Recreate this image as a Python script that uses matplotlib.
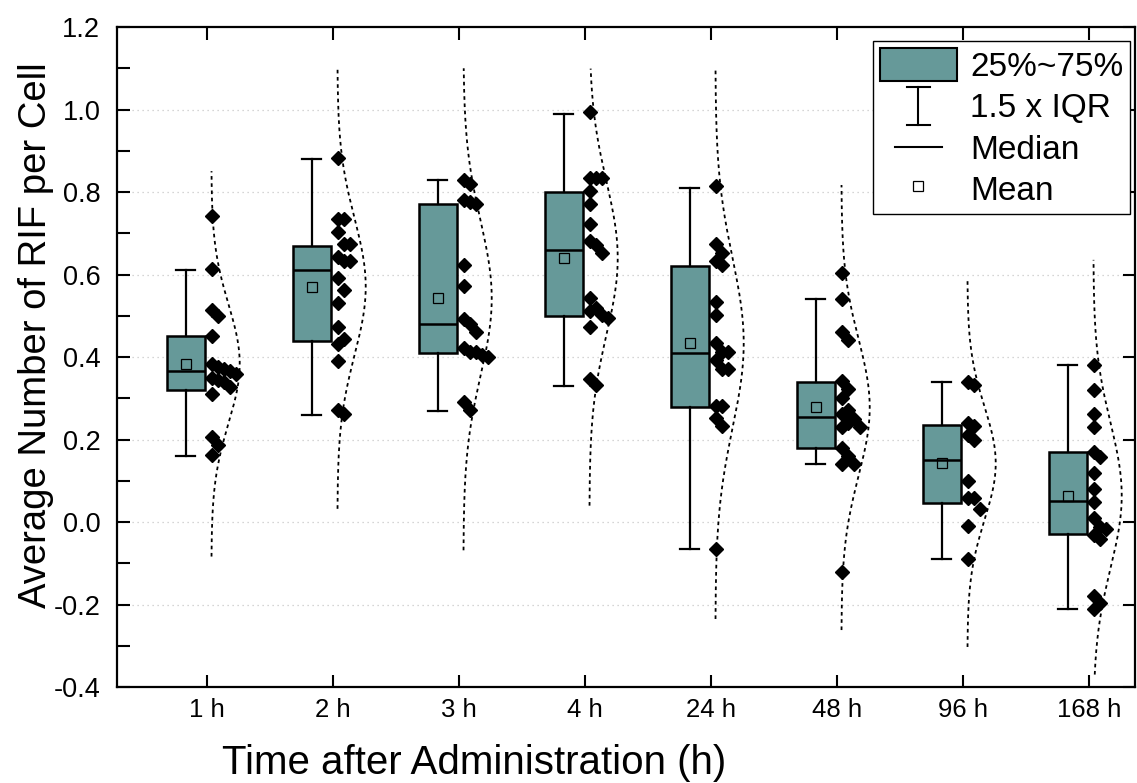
import matplotlib

matplotlib.use("Agg")
import matplotlib.pyplot as plt
import numpy as np
from matplotlib.legend_handler import HandlerBase
from matplotlib.lines import Line2D
from matplotlib.patches import Patch

plt.rcParams["font.family"] = ["Liberation Sans", "DejaVu Sans"]
plt.rcParams["axes.unicode_minus"] = False

# Categories and box statistics
times = ["1 h", "2 h", "3 h", "4 h", "24 h", "48 h", "96 h", "168 h"]
q1 = [0.32, 0.44, 0.41, 0.50, 0.28, 0.18, 0.045, -0.03]
median = [0.365, 0.61, 0.48, 0.66, 0.41, 0.255, 0.15, 0.05]
q3 = [0.45, 0.67, 0.77, 0.80, 0.62, 0.34, 0.235, 0.17]
whisker_low = [0.16, 0.26, 0.27, 0.33, -0.065, 0.14, -0.09, -0.21]
whisker_high = [0.61, 0.88, 0.83, 0.99, 0.81, 0.54, 0.34, 0.38]
means = [0.383, 0.570, 0.544, 0.640, 0.433, 0.278, 0.142, 0.063]

# Individual data points per time point
pts_1h = [0.743, 0.613, 0.515, 0.50, 0.452, 0.382, 0.375, 0.371, 0.366, 0.36,
          0.35, 0.344, 0.34, 0.327, 0.31, 0.205, 0.187, 0.162]
pts_2h = [0.882, 0.734, 0.734, 0.703, 0.673, 0.673, 0.643, 0.633, 0.633, 0.592,
          0.562, 0.532, 0.472, 0.443, 0.432, 0.391, 0.271, 0.262]
pts_3h = [0.829, 0.82, 0.78, 0.775, 0.77, 0.623, 0.572, 0.491, 0.481, 0.461,
          0.421, 0.413, 0.413, 0.405, 0.40, 0.292, 0.272]
pts_4h = [0.993, 0.833, 0.833, 0.833, 0.802, 0.771, 0.722, 0.682, 0.671, 0.653,
          0.542, 0.520, 0.512, 0.501, 0.494, 0.472, 0.347, 0.332]
pts_24h = [0.814, 0.673, 0.653, 0.633, 0.623, 0.533, 0.502, 0.433, 0.412, 0.412,
           0.393, 0.371, 0.371, 0.281, 0.281, 0.251, 0.233, -0.065]
pts_48h = [0.603, 0.541, 0.461, 0.441, 0.341, 0.322, 0.300, 0.272, 0.262, 0.250,
           0.241, 0.231, 0.231, 0.179, 0.160, 0.140, 0.140, -0.120]
pts_96h = [0.340, 0.332, 0.241, 0.233, 0.211, 0.200, 0.100, 0.059, 0.059, 0.031,
           -0.010, -0.090]
pts_168h = [0.381, 0.320, 0.261, 0.231, 0.169, 0.158, 0.120, 0.079, 0.049, 0.010,
            -0.011, -0.018, -0.032, -0.042, -0.179, -0.196, -0.212]
points = [pts_1h, pts_2h, pts_3h, pts_4h, pts_24h, pts_48h, pts_96h, pts_168h]

box_color = "#669999"


def swarm_offsets(vals, dmin=0.03, step=0.048):
    # Greedy column placement so close values sit side by side
    placed = []
    offs = []
    for v in vals:
        col = 0
        while any(c == col and abs(v - pv) < dmin for pv, c in placed):
            col += 1
        placed.append((v, col))
        offs.append(col * step)
    return np.array(offs)


class IQRHandler(HandlerBase):
    def create_artists(self, legend, orig_handle, xdescent, ydescent,
                       width, height, fontsize, trans):
        cx = width / 2 - xdescent
        y0, y1 = -ydescent - 0.08 * height, height - ydescent + 0.08 * height
        hw = 0.15 * width
        kw = dict(color="black", lw=1.5, transform=trans)
        return [Line2D([cx, cx], [y0, y1], **kw),
                Line2D([cx - hw, cx + hw], [y0, y0], **kw),
                Line2D([cx - hw, cx + hw], [y1, y1], **kw)]


class MedianHandler(HandlerBase):
    def create_artists(self, legend, orig_handle, xdescent, ydescent,
                       width, height, fontsize, trans):
        cx = width / 2 - xdescent
        cy = height / 2 - ydescent
        hw = 0.31 * width
        return [Line2D([cx - hw, cx + hw], [cy, cy], color="black", lw=1.5,
                       transform=trans)]


fig = plt.figure(figsize=(11.37, 7.83), dpi=100)
ax = fig.add_axes([0.1029, 0.1226, 0.8953, 0.8429])

pos = np.arange(1, len(times) + 1)
stats = []
for i in range(len(times)):
    stats.append(dict(med=median[i], q1=q1[i], q3=q3[i], whislo=whisker_low[i],
                      whishi=whisker_high[i], mean=means[i], fliers=[]))

ax.bxp(stats, positions=pos - 0.167, widths=0.30, patch_artist=True,
       showmeans=True, showfliers=False,
       boxprops=dict(facecolor=box_color, edgecolor="black", linewidth=1.8),
       medianprops=dict(color="black", linewidth=1.8),
       whiskerprops=dict(color="black", linewidth=1.6),
       capprops=dict(color="black", linewidth=1.6),
       meanprops=dict(marker="s", markerfacecolor="none", markeredgecolor="black",
                      markersize=6.5, markeredgewidth=0.9),
       capwidths=0.15, zorder=3)

for i, vals in enumerate(points):
    vals = np.array(vals)
    x = pos[i] + 0.04 + swarm_offsets(vals)
    ax.plot(x, vals, "D", color="black", markersize=7, zorder=4)
    mu = vals.mean()
    sd = vals.std(ddof=1)
    yy = np.linspace(mu - 3.25 * sd, mu + 3.25 * sd, 300)
    yy = yy[(yy >= -0.37) & (yy <= 1.10)]
    xx = pos[i] + 0.035 + 0.225 * np.exp(-0.5 * ((yy - mu) / sd) ** 2)
    ax.plot(xx, yy, color="black", lw=1.3, linestyle=(0, (2, 2)), zorder=2)

ax.set_xlim(0.286, 8.365)
ax.set_ylim(-0.4, 1.2)
ax.set_xticks(pos)
ax.set_xticklabels(times)
ax.set_yticks(np.arange(-0.4, 1.21, 0.2))
ax.set_yticks(np.arange(-0.3, 1.2, 0.2), minor=True)
ax.yaxis.set_major_formatter(matplotlib.ticker.FormatStrFormatter("%.1f"))

for y in np.arange(-0.2, 1.01, 0.2):
    ax.axhline(y, color="#c8c8c8", lw=0.9, linestyle=(0, (1, 3)), zorder=0)

for s in ax.spines.values():
    s.set_linewidth(1.6)
ax.tick_params(axis="both", which="major", direction="in", length=9, width=1.5,
               top=True, right=True)
ax.tick_params(axis="x", which="major", labelsize=18.5, pad=8)
ax.tick_params(axis="y", which="major", labelsize=19.5, pad=12)
ax.tick_params(axis="y", which="minor", direction="in", length=9, width=1.5,
               left=True, right=False)
ax.tick_params(axis="x", which="minor", bottom=False, top=False)

ax.set_xlabel("Time after Administration (h)", fontsize=29)
ax.set_ylabel("Average Number of RIF per Cell", fontsize=27.5)
ax.xaxis.set_label_coords(0.351, -0.087)
ax.yaxis.set_label_coords(-0.062, 0.533)

handles = [Patch(facecolor=box_color, edgecolor="black", linewidth=1.5),
           "iqr", "median",
           Line2D([], [], marker="s", linestyle="none", markerfacecolor="none",
                  markeredgecolor="black", markersize=6.5, markeredgewidth=0.9)]
labels = ["25%~75%", "1.5 x IQR", "Median", "Mean"]
leg = ax.legend(handles, labels, loc="upper right",
                bbox_to_anchor=(1 - 5 / 1018, 1 - 14 / 660), borderaxespad=0,
                fontsize=24, handlelength=2.3, handleheight=1.15,
                labelspacing=0.2, handletextpad=0.4, borderpad=0.2,
                fancybox=False, framealpha=1,
                handler_map={"iqr": IQRHandler(), "median": MedianHandler()})
leg.get_frame().set_edgecolor("black")
leg.get_frame().set_linewidth(1.0)

fig.savefig("out.png", dpi=100)
